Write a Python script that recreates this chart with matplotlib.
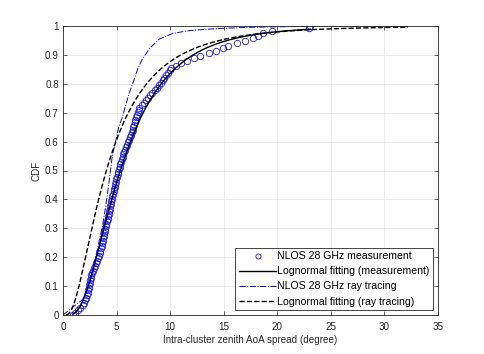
import math
import numpy as np
import matplotlib
matplotlib.use('Agg')
import matplotlib.pyplot as plt

# measured intra-cluster zenith AoA spreads (degree), sorted
meas_spread = [0.95, 1.08, 1.4, 1.62, 1.83, 1.95, 2.06, 2.15, 2.22, 2.29,
               2.35, 2.40, 2.44, 2.48, 2.53, 2.59, 2.65, 2.70, 2.80, 2.90,
               3.00, 3.10, 3.18, 3.27, 3.35, 3.42, 3.48, 3.54, 3.60, 3.66,
               3.71, 3.77, 3.82, 3.86, 3.90, 3.95, 4.00, 4.06, 4.12, 4.16,
               4.20, 4.25, 4.30, 4.35, 4.40, 4.46, 4.51, 4.56, 4.61, 4.67,
               4.72, 4.78, 4.83, 4.88, 4.94, 4.99, 5.04, 5.10, 5.17, 5.23,
               5.29, 5.36, 5.42, 5.49, 5.56, 5.64, 5.71, 5.78, 5.86, 5.96,
               6.06, 6.15, 6.25, 6.34, 6.42, 6.50, 6.56, 6.62, 6.69, 6.76,
               6.82, 6.88, 6.96, 7.05, 7.13, 7.35, 7.60, 7.78, 7.95, 8.12,
               8.33, 8.55, 8.75, 8.98, 9.16, 9.30, 9.46, 9.62, 9.80, 9.97,
               10.1, 10.55, 11.05, 11.6, 12.25, 12.8, 13.6, 14.3, 14.9, 15.4,
               16.2, 17.0, 17.7, 18.2, 18.7, 19.5, 23.0, 23.1]

rt_x = [0, 1.0, 1.9, 2.2, 2.5, 2.8, 3.1, 3.4, 3.7, 4.0, 4.3, 4.6, 4.9, 5.2,
        5.5, 5.8, 6.2, 6.6, 7.0, 7.4, 8.1, 9.0, 10.3, 11.8, 13.5, 15.0, 17.0,
        19.6, 23.0, 27.0, 32.2]
rt_cdf = [0, 0.03, 0.055, 0.08, 0.12, 0.16, 0.21, 0.26, 0.31, 0.38, 0.46,
          0.55, 0.60, 0.65, 0.68, 0.72, 0.77, 0.81, 0.855, 0.885, 0.923,
          0.955, 0.975, 0.984, 0.989, 0.992, 0.995, 0.997, 0.999, 0.9995, 1.0]

# lognormal fits (median, sigma of ln)
fit_meas = (5.35, 0.64)
fit_rt = (4.05, 0.78)

labels = ['NLOS 28 GHz measurement', 'Lognormal fitting (measurement)',
          'NLOS 28 GHz ray tracing', 'Lognormal fitting (ray tracing)']


def logn_cdf(x, median, sigma):
    return np.array([0.5 * (1 + math.erf(math.log(v / median) / (sigma * math.sqrt(2))))
                     for v in x])


def main():
    plt.rcParams['font.family'] = ['Liberation Sans', 'DejaVu Sans']
    dark = '#262626'

    fig = plt.figure(figsize=(4.85, 3.54), dpi=100)
    ax = fig.add_axes([63 / 485, 39 / 354, 375 / 485, 289 / 354])

    n = len(meas_spread)
    meas_cdf = np.arange(n) / (n - 1)

    x_meas = np.linspace(meas_spread[0], meas_spread[-1], 300)
    x_rt = np.linspace(0.3, rt_x[-1], 400)

    ax.plot(meas_spread, meas_cdf, 'o', ms=4.6, mfc='none', mec='#1a1aff', mew=0.6,
            label=labels[0])
    ax.plot(x_meas, logn_cdf(x_meas, *fit_meas), '-', color='k', lw=1.0, label=labels[1])
    ax.plot(rt_x, rt_cdf, '-.', color='#0000ff', lw=0.7, label=labels[2])
    ax.plot(x_rt, logn_cdf(x_rt, *fit_rt), '--', color='k', lw=1.0, label=labels[3])

    ax.set_xlim(0, 35)
    ax.set_ylim(0, 1)
    ax.set_xticks(np.arange(0, 36, 5))
    ax.set_yticks(np.arange(0, 1.01, 0.1))
    ax.set_yticklabels(['0', '0.1', '0.2', '0.3', '0.4', '0.5', '0.6', '0.7',
                        '0.8', '0.9', '1'])
    ax.grid(True, color='#e6e6e6', lw=0.6)
    ax.set_axisbelow(True)
    ax.tick_params(direction='in', length=2.8, width=0.5, top=True, right=True,
                   labelsize=7.1, colors=dark, pad=3)
    ax.tick_params(axis='x', pad=5)
    for s in ax.spines.values():
        s.set_color(dark)
        s.set_linewidth(0.6)

    ax.set_xlabel('Intra-cluster zenith AoA spread (degree)', fontsize=7.1,
                  color=dark, labelpad=2.5)
    ax.set_ylabel('CDF', fontsize=7.1, color=dark, labelpad=2.5)

    leg = ax.legend(loc='lower right', fontsize=7.6, fancybox=False, framealpha=1,
                    edgecolor=dark, handlelength=3.5, handletextpad=0.1,
                    labelspacing=0.48, borderpad=0.35, borderaxespad=0.45,
                    markerscale=0.8)
    leg.get_frame().set_linewidth(0.6)

    plt.savefig('out.png', dpi=100)


if __name__ == "__main__":
    main()
